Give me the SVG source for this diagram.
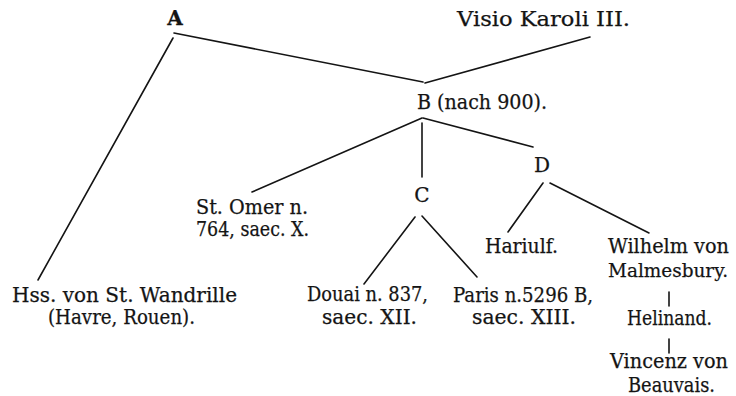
<svg xmlns="http://www.w3.org/2000/svg" width="736" height="396" viewBox="0 0 736 396">
  <style>
    .lbl { font-family: "DejaVu Serif", "Liberation Serif", serif; font-size: 20px; fill: #141414; stroke: #141414; stroke-width: 0.25; }
    .bold { font-weight: bold; }
    .mid { text-anchor: middle; }
    .tight { font-size: 19px; }
    .edge { stroke: #141414; stroke-width: 1.6; fill: none; stroke-linecap: round; }
  </style>
  <rect width="736" height="396" fill="#ffffff"/>

  <!-- stemma connectors -->
  <g id="connectors">
    <line class="edge" x1="174" y1="33" x2="423" y2="82"/>
    <line class="edge" x1="173" y1="38" x2="38" y2="280"/>
    <line class="edge" x1="590" y1="37" x2="425" y2="83"/>
    <line class="edge" x1="422" y1="118" x2="252" y2="192"/>
    <line class="edge" x1="422" y1="123" x2="422" y2="177"/>
    <line class="edge" x1="423" y1="118" x2="533" y2="147"/>
    <line class="edge" x1="415" y1="217" x2="364" y2="284"/>
    <line class="edge" x1="422" y1="216" x2="477" y2="277"/>
    <line class="edge" x1="543" y1="183" x2="508" y2="232"/>
    <line class="edge" x1="550" y1="183" x2="649" y2="233"/>
    <line class="edge" x1="669" y1="292" x2="669" y2="306"/>
    <line class="edge" x1="669" y1="339" x2="669" y2="353"/>
  </g>

  <g id="node-A"><text class="lbl bold mid" x="175" y="25">A</text></g>
  <g id="node-visio"><text class="lbl" x="457" y="26" textLength="173" lengthAdjust="spacingAndGlyphs">Visio Karoli III.</text></g>
  <g id="node-B"><text class="lbl" x="417" y="109" textLength="130" lengthAdjust="spacingAndGlyphs">B (nach 900).</text></g>
  <g id="node-stomer">
    <text class="lbl" x="196" y="214" textLength="112" lengthAdjust="spacingAndGlyphs">St. Omer n.</text>
    <text class="lbl" x="196" y="236" textLength="113" lengthAdjust="spacingAndGlyphs">764, saec. X.</text>
  </g>
  <g id="node-C"><text class="lbl mid" x="422" y="202">C</text></g>
  <g id="node-D"><text class="lbl mid" x="542" y="172">D</text></g>
  <g id="node-wandrille">
    <text class="lbl" x="12" y="302" textLength="225" lengthAdjust="spacingAndGlyphs">Hss. von St. Wandrille</text>
    <text class="lbl" x="48" y="324" textLength="147" lengthAdjust="spacingAndGlyphs">(Havre, Rouen).</text>
  </g>
  <g id="node-douai">
    <text class="lbl" x="307" y="301" textLength="121" lengthAdjust="spacingAndGlyphs">Douai n. 837,</text>
    <text class="lbl" x="322" y="324" textLength="95" lengthAdjust="spacingAndGlyphs">saec. XII.</text>
  </g>
  <g id="node-paris">
    <text class="lbl" x="453" y="302" textLength="140" lengthAdjust="spacingAndGlyphs">Paris n.5296 B,</text>
    <text class="lbl" x="472" y="324" textLength="104" lengthAdjust="spacingAndGlyphs">saec. XIII.</text>
  </g>
  <g id="node-hariulf"><text class="lbl" x="485" y="253" textLength="73" lengthAdjust="spacingAndGlyphs">Hariulf.</text></g>
  <g id="node-wilhelm">
    <text class="lbl" x="608" y="253" textLength="121" lengthAdjust="spacingAndGlyphs">Wilhelm von</text>
    <text class="lbl tight" x="608" y="277" textLength="120" lengthAdjust="spacingAndGlyphs">Malmesbury.</text>
  </g>
  <g id="node-helinand"><text class="lbl" x="627" y="325" textLength="85" lengthAdjust="spacingAndGlyphs">Helinand.</text></g>
  <g id="node-vincenz">
    <text class="lbl" x="610" y="368" textLength="118" lengthAdjust="spacingAndGlyphs">Vincenz von</text>
    <text class="lbl" x="628" y="392" textLength="87" lengthAdjust="spacingAndGlyphs">Beauvais.</text>
  </g>
</svg>
